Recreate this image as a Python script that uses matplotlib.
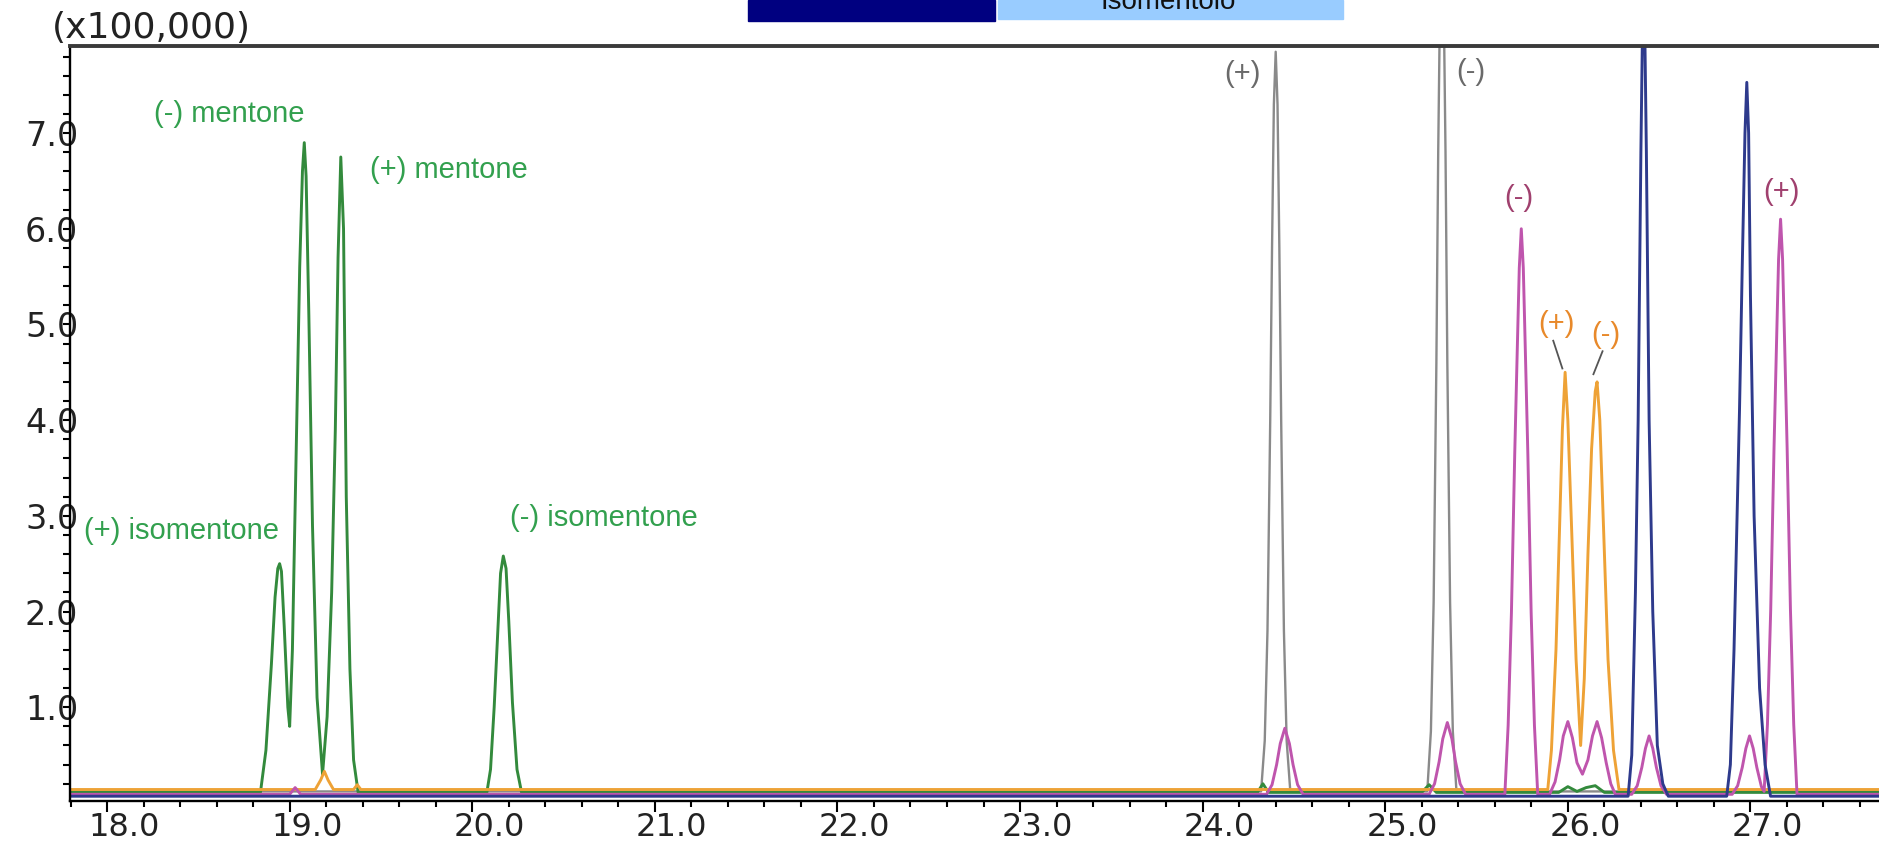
import matplotlib
matplotlib.use('Agg')
import matplotlib.pyplot as plt
import matplotlib.transforms as mtransforms
from matplotlib.patches import Rectangle
from matplotlib.ticker import MultipleLocator, FormatStrFormatter

# chromatogram traces: (retention time [min], intensity [x100,000])
green = [(17.80, 0.11), (18.84, 0.11), (18.87, 0.55), (18.90, 1.45), (18.92, 2.15), (18.935, 2.45),
         (18.945, 2.50), (18.955, 2.42), (18.97, 1.85), (18.99, 1.00), (19.00, 0.80), (19.015, 1.60),
         (19.035, 3.60), (19.055, 5.60), (19.07, 6.60), (19.08, 6.90), (19.09, 6.55), (19.105, 5.10),
         (19.125, 2.90), (19.15, 1.10), (19.18, 0.30), (19.205, 0.90), (19.23, 2.20), (19.25, 3.90),
         (19.265, 5.70), (19.28, 6.75), (19.295, 6.00), (19.31, 3.20), (19.33, 1.40), (19.35, 0.45),
         (19.375, 0.11), (20.08, 0.11), (20.10, 0.35), (20.12, 1.00), (20.14, 1.80), (20.155, 2.40),
         (20.17, 2.58), (20.185, 2.45), (20.20, 1.90), (20.22, 1.05), (20.245, 0.35), (20.27, 0.11),
         (24.30, 0.11), (24.33, 0.20), (24.36, 0.11), (25.20, 0.11), (25.24, 0.19), (25.28, 0.11),
         (25.95, 0.11), (26.00, 0.17), (26.05, 0.12), (26.10, 0.16), (26.15, 0.18), (26.20, 0.11),
         (27.70, 0.11)]

gray = [(17.80, 0.12), (24.32, 0.12), (24.34, 0.65), (24.355, 1.8), (24.37, 4.0), (24.38, 5.8),
        (24.39, 7.3), (24.40, 7.85), (24.41, 7.3), (24.42, 5.8), (24.43, 4.0), (24.445, 1.8),
        (24.46, 0.65), (24.48, 0.12), (25.23, 0.12), (25.25, 0.75), (25.265, 2.1), (25.28, 4.6),
        (25.29, 6.8), (25.30, 8.4), (25.31, 9.0), (25.32, 8.4), (25.33, 6.8), (25.34, 4.6),
        (25.355, 2.1), (25.37, 0.75), (25.39, 0.12), (27.70, 0.12)]

orange = [(17.80, 0.14), (19.14, 0.14), (19.17, 0.24), (19.19, 0.33), (19.21, 0.24), (19.24, 0.14),
          (19.35, 0.14), (19.37, 0.19), (19.39, 0.14), (25.89, 0.14), (25.91, 0.55), (25.935, 1.6),
          (25.955, 2.9), (25.97, 3.9), (25.985, 4.5), (26.00, 4.0), (26.02, 2.9), (26.045, 1.5),
          (26.07, 0.6), (26.09, 1.3), (26.11, 2.6), (26.13, 3.7), (26.15, 4.3), (26.16, 4.4),
          (26.175, 4.0), (26.195, 2.9), (26.22, 1.5), (26.25, 0.55), (26.28, 0.14), (27.70, 0.14)]

navy = [(17.80, 0.07), (26.33, 0.07), (26.35, 0.5), (26.37, 2.2), (26.385, 4.0), (26.40, 6.8),
        (26.415, 9.0), (26.43, 6.8), (26.445, 4.0), (26.465, 2.0), (26.49, 0.6), (26.52, 0.2),
        (26.55, 0.07), (26.87, 0.07), (26.89, 0.4), (26.91, 1.6), (26.94, 4.1), (26.955, 5.6),
        (26.97, 7.0), (26.98, 7.53), (26.99, 7.0), (27.00, 5.3), (27.02, 3.0), (27.05, 1.2),
        (27.08, 0.4), (27.11, 0.07), (27.70, 0.07)]

pink = [(17.80, 0.09), (19.00, 0.09), (19.03, 0.16), (19.06, 0.09),
        (24.35, 0.09), (24.38, 0.19), (24.405, 0.40), (24.425, 0.62), (24.45, 0.78), (24.475, 0.62),
        (24.495, 0.40), (24.52, 0.19), (24.55, 0.09),
        (25.24, 0.09), (25.27, 0.20), (25.295, 0.43), (25.315, 0.67), (25.34, 0.84), (25.365, 0.67),
        (25.385, 0.43), (25.41, 0.20), (25.44, 0.09),
        (25.655, 0.09), (25.673, 0.81), (25.691, 1.99), (25.709, 3.64), (25.7225, 4.70), (25.734, 5.59),
        (25.745, 6.00), (25.756, 5.59), (25.7675, 4.70), (25.781, 3.64), (25.799, 1.99), (25.817, 0.81),
        (25.835, 0.09),
        (25.90, 0.09), (25.93, 0.22), (25.955, 0.45), (25.975, 0.70), (26.00, 0.85), (26.025, 0.68),
        (26.05, 0.42), (26.08, 0.30), (26.11, 0.45), (26.135, 0.70), (26.16, 0.85), (26.185, 0.68),
        (26.21, 0.42), (26.235, 0.20), (26.26, 0.09),
        (26.35, 0.09), (26.38, 0.18), (26.405, 0.37), (26.425, 0.57), (26.445, 0.70), (26.465, 0.57),
        (26.485, 0.37), (26.51, 0.18), (26.54, 0.09),
        (26.90, 0.09), (26.93, 0.18), (26.955, 0.37), (26.975, 0.57), (26.995, 0.70), (27.015, 0.57),
        (27.035, 0.37), (27.06, 0.17),
        (27.075, 0.12), (27.093, 0.82), (27.111, 2.02), (27.129, 3.70), (27.1425, 4.78), (27.154, 5.68),
        (27.165, 6.10), (27.176, 5.68), (27.1875, 4.78), (27.201, 3.70), (27.219, 2.02), (27.237, 0.82),
        (27.255, 0.09), (27.70, 0.09)]

# peak labels: text, time, intensity, colour
labels = [('(-) mentone', 18.67, 7.20, '#32a04e'),
          ('(+) mentone', 19.87, 6.61, '#32a04e'),
          ('(+) isomentone', 18.41, 2.84, '#32a04e'),
          ('(-) isomentone', 20.72, 2.98, '#32a04e'),
          ('(+)', 24.22, 7.62, '#6a6a6a'),
          ('(-)', 25.47, 7.64, '#6a6a6a'),
          ('(-)', 25.73, 6.32, '#a0406e'),
          ('(+)', 27.17, 6.38, '#a0406e'),
          ('(+)', 25.94, 5.01, '#e8892a'),
          ('(-)', 26.21, 4.89, '#e8892a')]
leaders = [((25.92, 25.97), (4.83, 4.54)),
           ((26.19, 26.14), (4.72, 4.48))]

W, H = 1879, 841
fig = plt.figure(figsize=(W / 100, H / 100), dpi=100)
ax = fig.add_axes([70 / W, 1 - 801 / H, 1 - 70 / W, (801 - 46) / H])

traces = [(gray, '#8a8a8a', 1.7), (green, '#338a3c', 2.1), (orange, '#eea236', 2.1),
          (pink, '#bf55ad', 2.1), (navy, '#2e3a8c', 2.1)]
for pts, col, lw in traces:
    t, y = zip(*pts)
    ax.plot(t, y, color=col, lw=lw, solid_joinstyle='round')

for txt, t, v, col in labels:
    ax.text(t, v, txt, color=col, fontsize=21, ha='center', va='center', family='Liberation Sans')
for xs, ys in leaders:
    ax.plot(xs, ys, color='#555555', lw=1.3)

ax.set_xlim(17.797, 27.704)
ax.set_ylim(0.02, 7.91)

ax.spines['right'].set_visible(False)
ax.spines['top'].set_linewidth(2.8)
ax.spines['top'].set_color('#3a3a3a')
ax.spines['left'].set_linewidth(1.7)
ax.spines['bottom'].set_linewidth(1.7)

ax.set_xticks([18, 19, 20, 21, 22, 23, 24, 25, 26, 27])
ax.xaxis.set_minor_locator(MultipleLocator(0.2))
ax.set_yticks([1, 2, 3, 4, 5, 6, 7])
ax.yaxis.set_minor_locator(MultipleLocator(0.2))
ax.xaxis.set_major_formatter(FormatStrFormatter('%.1f'))
ax.yaxis.set_major_formatter(FormatStrFormatter('%.1f'))

ax.tick_params(axis='x', which='major', direction='out', length=8, width=1.5, labelsize=23,
               pad=0, labelcolor='#222222')
ax.tick_params(axis='x', which='minor', direction='out', length=4, width=1.5)
ax.tick_params(axis='y', which='both', direction='out', length=5, width=1.5)
ax.tick_params(axis='y', which='major', labelsize=24, pad=-11, labelcolor='#222222')

# the instrument prints the x labels a little right of their ticks
shift = mtransforms.ScaledTranslation(0.17, 0, fig.dpi_scale_trans)
for tick in ax.xaxis.get_major_ticks():
    tick.label1.set_transform(tick.label1.get_transform() + shift)

fig.text(151 / W, 1 - 28 / H, '(x100,000)', ha='center', va='center', fontsize=26, color='#222222')

# clipped legend boxes at the top edge
fig.patches.append(Rectangle((748 / W, 1 - 21 / H), (995 - 748) / W, 21 / H,
                             transform=fig.transFigure, color='#000080'))
fig.patches.append(Rectangle((998 / W, 1 - 19 / H), (1343 - 998) / W, 19 / H,
                             transform=fig.transFigure, color='#99ccff'))
fig.text(1168 / W, 1 - 9 / H, 'Isomentolo', ha='center', va='baseline', fontsize=20,
         family='Liberation Sans', color='#111111')

fig.savefig('out.png', dpi=100)
